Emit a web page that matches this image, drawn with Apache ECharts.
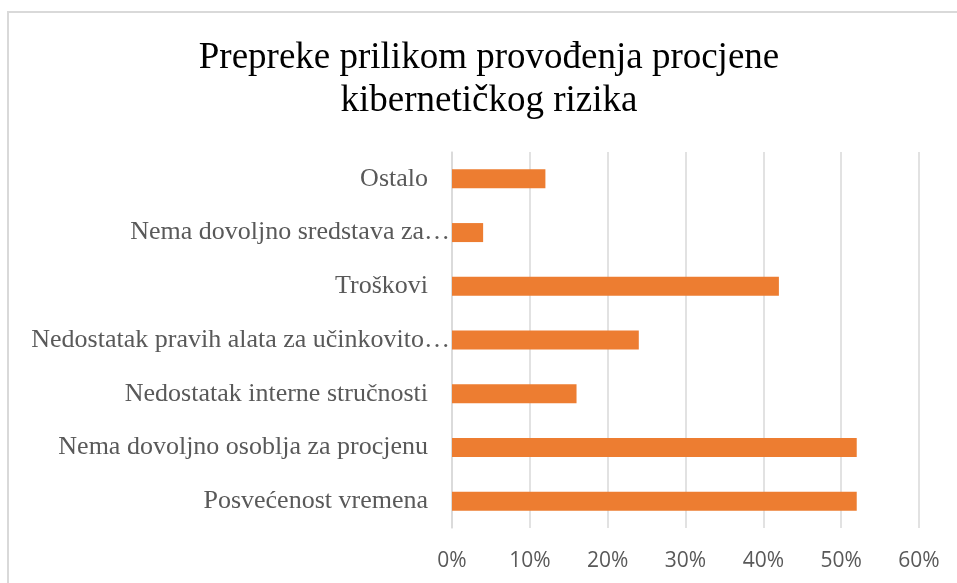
<!DOCTYPE html>
<html>
<head>
<meta charset="utf-8">
<script src="https://cdn.jsdelivr.net/npm/echarts@6/dist/echarts.min.js"></script>
<style>
  html, body { margin: 0; padding: 0; background: #fff; }
  #chart { width: 957px; height: 583px; }
</style>
</head>
<body>
<div id="chart"></div>
<script>
// categories top to bottom, as in the picture
const categories = [
  "Ostalo",
  "Nema dovoljno sredstava za…",
  "Troškovi",
  "Nedostatak pravih alata za učinkovito…",
  "Nedostatak interne stručnosti",
  "Nema dovoljno osoblja za procjenu",
  "Posvećenost vremena"
];
const shares = [0.12, 0.04, 0.42, 0.24, 0.16, 0.52, 0.52];
const titleLines = ["Prepreke prilikom provođenja procjene", "kibernetičkog rizika"];

const labelFont = { fontFamily: "Liberation Serif", fontSize: 26, color: "#595959" };

let chart = echarts.init(document.getElementById("chart"));
let options = {
  animation: false,
  title: {
    text: titleLines.join("\n"),
    left: 484,
    textAlign: "center",
    top: 32,
    textStyle: {
      fontFamily: "Liberation Serif",
      fontWeight: "normal",
      fontSize: 37,
      lineHeight: 43,
      color: "#000"
    }
  },
  graphic: [
    {
      type: "rect",
      shape: { x: 8, y: 12, width: 1000, height: 1000 },
      style: { fill: "none", stroke: "#d9d9d9", lineWidth: 2 },
      silent: true
    }
  ],
  grid: {
    left: 452,
    right: 38,
    top: 152,
    bottom: 55
  },
  xAxis: {
    type: "value",
    min: 0,
    max: 0.6,
    interval: 0.1,
    axisLine: { show: false },
    axisTick: { show: false },
    splitLine: { lineStyle: { color: "#d9d9d9", width: 1.5 } },
    axisLabel: {
      formatter: v => Math.round(v * 100) + "%",
      fontFamily: "Open Sans",
      fontSize: 21,
      color: "#595959",
      margin: 23
    }
  },
  yAxis: {
    type: "category",
    inverse: true,
    data: categories,
    axisLine: { show: true, lineStyle: { color: "#d9d9d9", width: 1.5 } },
    axisTick: { show: false },
    axisLabel: {
      ...labelFont,
      margin: 2,
      // truncated labels run up to the axis, the others stop short of it
      formatter: v => (v.endsWith("…") ? "{t|" + v + "}" : "{n|" + v + "}"),
      rich: {
        t: { ...labelFont },
        n: { ...labelFont, padding: [0, 22, 0, 0] }
      }
    }
  },
  series: [
    {
      type: "bar",
      data: shares,
      barWidth: 19,
      itemStyle: { color: "#ed7d31" }
    }
  ]
};
chart.setOption(options);
</script>
</body>
</html>
